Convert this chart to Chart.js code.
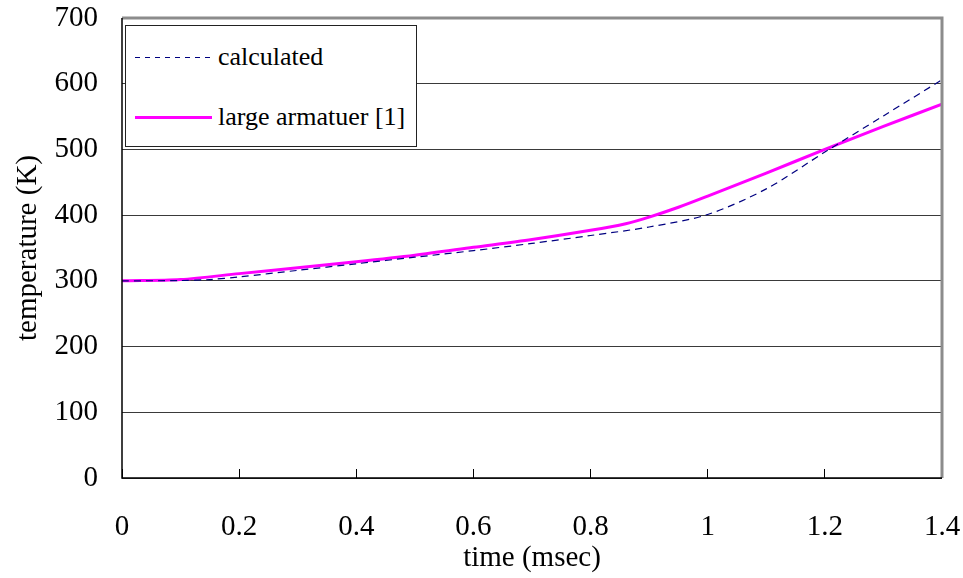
<!DOCTYPE html>
<html>
<head>
<meta charset="utf-8">
<script src="https://cdn.jsdelivr.net/npm/chart.js@4"></script>
<style>
  body { margin: 0; background: #fff; }
  #wrap { position: relative; width: 963px; height: 578px; }
  #legend {
    position: absolute; left: 125px; top: 25px; width: 292px; height: 122px;
    border: 1px solid #222; background: #fff; box-sizing: border-box;
    font-family: "Liberation Serif", "Times New Roman", serif; font-size: 26px; color: #000;
  }
  .row { position: absolute; left: 0; height: 30px; line-height: 30px; }
  .sample { position: absolute; left: 9px; width: 77px; }
  .lbl { position: absolute; left: 92px; white-space: nowrap; }
</style>
</head>
<body>
<div id="wrap">
  <canvas id="canvas-chart" width="963" height="578"></canvas>
  <div id="legend">
    <div class="row" style="top:16px"><div class="sample" style="top:15px; height:1px; background:repeating-linear-gradient(to right, #000080 0 5px, transparent 5px 10px)"></div><span class="lbl">calculated</span></div>
    <div class="row" style="top:76px"><div class="sample" style="top:14px; height:3px; background:#ff00ff"></div><span class="lbl">large armatuer [1]</span></div>
  </div>
</div>
<script>
'use strict'

let timeCalc = [0, 0.1, 0.15, 0.2, 0.3, 0.4, 0.5, 0.6, 0.7, 0.8, 0.9, 1.0, 1.1, 1.2, 1.3, 1.4];
let tempCalc = [300, 300.5, 302, 306, 316, 326, 336, 346, 357, 369, 382, 401, 440, 496, 551, 606];

let timeLarge = [0, 0.1, 0.2, 0.3, 0.4, 0.5, 0.6, 0.7, 0.8, 0.86, 0.9, 0.95, 1.0, 1.1, 1.2, 1.3, 1.4];
let tempLarge = [300, 302, 311, 320, 329, 339, 351, 363, 377, 387, 397, 412, 429, 464, 500, 535, 569];

let xTicks = [0, 0.2, 0.4, 0.6, 0.8, 1, 1.2, 1.4];
let yTicks = [0, 100, 200, 300, 400, 500, 600, 700];

let serif = "'Liberation Serif', 'Times New Roman', serif";

function toPoints(xs, ys) {
    return xs.map(function (x, i) { return { x: x, y: ys[i] }; });
}

function noOverhang(s) {
    s.paddingLeft = 0;
    s.paddingRight = 0;
    s.paddingTop = 0;
    s.paddingBottom = 0;
}

// gray frame on top and right of the plot area, black on left and bottom
let frame = {
    id: "frame",
    afterDraw: function (c) {
        let a = c.chartArea;
        let ctx = c.ctx;
        ctx.save();
        ctx.strokeStyle = "#8c8c8c";
        ctx.lineWidth = 3;
        ctx.beginPath();
        ctx.moveTo(a.left, a.top);
        ctx.lineTo(a.right, a.top);
        ctx.lineTo(a.right, a.bottom);
        ctx.stroke();
        ctx.strokeStyle = "#000";
        ctx.lineWidth = 1.5;
        ctx.beginPath();
        ctx.moveTo(a.left, a.top);
        ctx.lineTo(a.left, a.bottom);
        ctx.lineTo(a.right, a.bottom);
        ctx.stroke();
        ctx.restore();
    },
};

let chart = document.getElementById("canvas-chart").getContext("2d");

let chart1 = new Chart(chart, {
    type: "line",
    data: {
        datasets: [
            {
                label: "calculated",
                data: toPoints(timeCalc, tempCalc),
                borderColor: "#000080",
                borderWidth: 1.2,
                borderDash: [7, 5],
                pointRadius: 0,
                tension: 0.3,
                order: 1,
            },
            {
                label: "large armatuer [1]",
                data: toPoints(timeLarge, tempLarge),
                borderColor: "#ff00ff",
                borderWidth: 3,
                pointRadius: 0,
                tension: 0.3,
                order: 2,
            },
        ],
    },
    options: {
        responsive: false,
        animation: false,
        layout: { padding: { left: 0, right: 21, top: 18, bottom: 0 } },
        plugins: { legend: { display: false }, tooltip: { enabled: false } },
        scales: {
            x: {
                type: "linear",
                min: 0,
                max: 1.4,
                afterBuildTicks: function (s) { s.ticks = xTicks.map(function (v) { return { value: v }; }); },
                afterFit: function (s) { s.height = 100; noOverhang(s); },
                grid: { drawOnChartArea: false, drawTicks: true, tickLength: -9, color: "#000", lineWidth: 1 },
                border: { display: false },
                ticks: {
                    color: "#000",
                    font: { family: serif, size: 29 },
                    padding: 41,
                    maxRotation: 0,
                    callback: function (v) { return String(v); },
                },
                title: {
                    display: true,
                    text: "time (msec)",
                    color: "#000",
                    font: { family: serif, size: 29 },
                    padding: { top: 0, bottom: 2 },
                },
            },
            y: {
                min: 0,
                max: 700,
                afterBuildTicks: function (s) { s.ticks = yTicks.map(function (v) { return { value: v }; }); },
                afterFit: function (s) { s.width = 122; noOverhang(s); },
                grid: { drawTicks: false, color: "#3a3a3a", lineWidth: 1 },
                border: { display: false },
                ticks: {
                    color: "#000",
                    font: { family: serif, size: 29 },
                    padding: 24,
                },
                title: {
                    display: true,
                    text: "temperature (K)",
                    color: "#000",
                    font: { family: serif, size: 29 },
                    padding: { top: 11, bottom: 0 },
                },
            },
        },
    },
    plugins: [frame],
});
</script>
</body>
</html>
